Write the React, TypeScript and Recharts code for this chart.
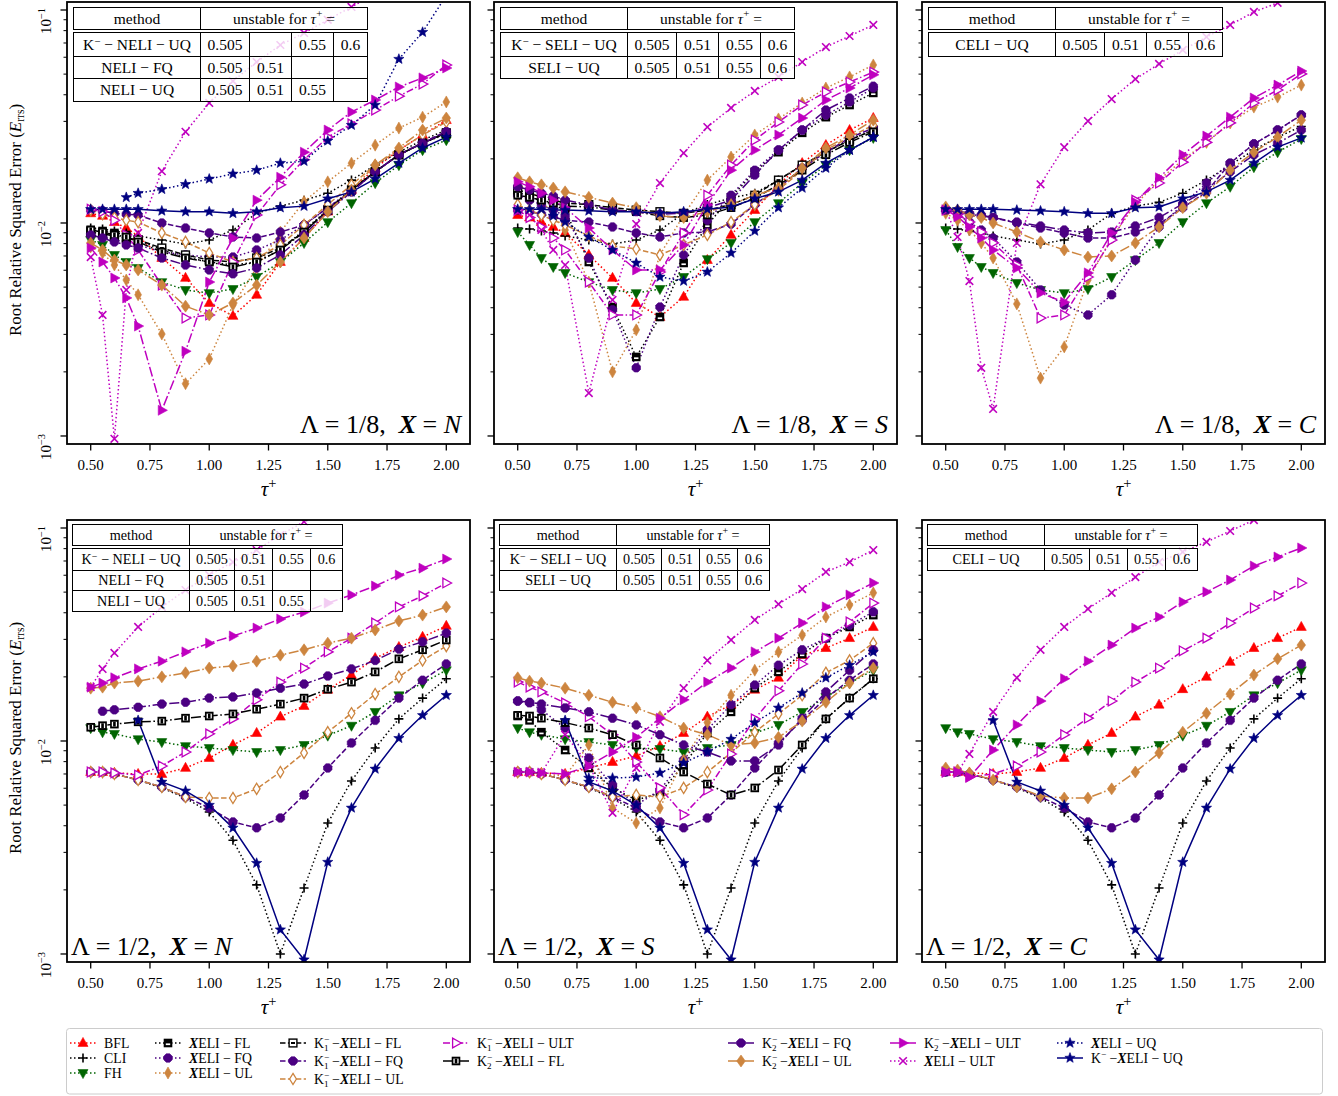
import React from 'react';
import { LineChart, Line, XAxis, YAxis } from 'recharts';

const FONT = '"Liberation Serif", "Times New Roman", Times, serif';

// ---------- categories / ticks ----------
const X_TOP = [0.5, 0.55, 0.6, 0.65, 0.7, 0.8, 0.9, 1.0, 1.1, 1.2, 1.3, 1.4, 1.5, 1.6, 1.7, 1.8, 1.9, 2.0];
const X_BOT = [0.5, 0.55, 0.6, 0.7, 0.8, 0.9, 1.0, 1.1, 1.2, 1.3, 1.4, 1.5, 1.6, 1.7, 1.8, 1.9, 2.0];
const X_TICKS = [0.5, 0.75, 1.0, 1.25, 1.5, 1.75, 2.0];
const Y_TICKS = [0.001, 0.002, 0.003, 0.004, 0.005, 0.006, 0.007, 0.008, 0.009, 0.01, 0.02, 0.03, 0.04, 0.05, 0.06, 0.07, 0.08, 0.09, 0.1];
const X_DOMAIN = [0.4, 2.1];
const Y_DOMAIN = [0.000917, 0.10903];

// ---------- Panel 1: Lambda = 1/8, X = N ----------
const P1_BFL = [0.0111, 0.0108, 0.0101, 0.00947, 0.00869, 0.00685, 0.00552, 0.00421, 0.00366, 0.0046, 0.00656, 0.0085, 0.0113, 0.0143, 0.0181, 0.022, 0.0259, 0.0304];
const P1_CLI = [0.00947, 0.00937, 0.00917, 0.00898, 0.00869, 0.00832, 0.00797, 0.00832, 0.00927, 0.0111, 0.012, 0.0128, 0.0138, 0.0159, 0.0187, 0.0215, 0.0245, 0.0273];
const P1_FH = [0.00832, 0.00789, 0.00708, 0.00656, 0.00615, 0.00528, 0.00485, 0.00469, 0.0049, 0.00558, 0.00656, 0.00806, 0.0101, 0.0124, 0.0154, 0.0187, 0.022, 0.0245];
const P1_XFL = [0.00927, 0.00917, 0.00898, 0.00879, 0.00832, 0.00747, 0.00692, 0.00656, 0.00635, 0.00656, 0.00747, 0.00927, 0.0115, 0.0143, 0.0174, 0.0209, 0.0237, 0.0262];
const P1_XFQ = [0.00879, 0.0086, 0.00832, 0.00815, 0.00789, 0.00731, 0.00708, 0.00692, 0.00692, 0.00747, 0.00832, 0.00979, 0.0118, 0.0143, 0.0174, 0.0209, 0.0237, 0.0265];
const P1_XUL = [0.00772, 0.00723, 0.00635, 0.0054, 0.0046, 0.00301, 0.00176, 0.0023, 0.00412, 0.00615, 0.00907, 0.0126, 0.0156, 0.0191, 0.0232, 0.0279, 0.0314, 0.037];
const P1_K1FL = [0.00907, 0.00888, 0.00869, 0.0085, 0.00832, 0.00763, 0.00708, 0.0067, 0.00656, 0.00685, 0.00763, 0.00907, 0.0115, 0.0143, 0.0174, 0.0209, 0.0237, 0.0265];
const P1_K1FQ = [0.0115, 0.0114, 0.0111, 0.011, 0.0109, 0.01, 0.00947, 0.00898, 0.0086, 0.0085, 0.00907, 0.00979, 0.0118, 0.014, 0.0174, 0.0209, 0.0239, 0.0268];
const P1_K1UL = [0.0115, 0.011, 0.0106, 0.0103, 0.0101, 0.00898, 0.00815, 0.00723, 0.00656, 0.00685, 0.00789, 0.00979, 0.0122, 0.0151, 0.0187, 0.022, 0.0259, 0.0298];
const P1_K1ULT = [0.0116, 0.0113, 0.0103, 0.00879, 0.00747, 0.00511, 0.00358, 0.0037, 0.00656, 0.0109, 0.0151, 0.0198, 0.0253, 0.0292, 0.0339, 0.0394, 0.0449, 0.0552];
const P1_K2FL = [0.00927, 0.00907, 0.00879, 0.0086, 0.00815, 0.00731, 0.00685, 0.00656, 0.00622, 0.00656, 0.00747, 0.00907, 0.0115, 0.0143, 0.0174, 0.0209, 0.0237, 0.0265];
const P1_K2FQ = [0.00879, 0.0085, 0.00815, 0.00789, 0.00763, 0.00685, 0.00635, 0.00602, 0.00577, 0.00615, 0.00708, 0.00879, 0.0113, 0.014, 0.0174, 0.0209, 0.0237, 0.0268];
const P1_K2UL = [0.00806, 0.00747, 0.0067, 0.00635, 0.00602, 0.00511, 0.00407, 0.0037, 0.00421, 0.00511, 0.00656, 0.0085, 0.0113, 0.0143, 0.0187, 0.0225, 0.0273, 0.0311];
const P1_K2ULT = [0.00763, 0.00656, 0.00552, 0.00445, 0.00328, 0.00132, 0.0025, 0.00528, 0.0085, 0.0128, 0.0164, 0.0215, 0.0273, 0.0332, 0.0378, 0.0435, 0.048, 0.0534];
const P1_XULT = [0.00692, 0.0037, 0.00097, 0.00485, 0.00898, 0.0175, 0.0268, 0.0366, 0.0464, 0.057, 0.0685, 0.078, 0.0899, 0.1034, 0.119, 0.137, 0.154, 0.172];
const P1_XUQ = [null, null, null, 0.0132, 0.0138, 0.0144, 0.0152, 0.0161, 0.017, 0.0177, 0.0191, 0.0195, 0.0243, 0.0288, 0.0358, 0.0588, 0.0787, 0.117];
const P1_KUQ = [0.0116, 0.0116, 0.0116, 0.0116, 0.0116, 0.0114, 0.0113, 0.0113, 0.0111, 0.0113, 0.0118, 0.012, 0.013, 0.014, 0.0161, 0.0191, 0.0225, 0.0253];

// ---------- Panel 2: Lambda = 1/8, X = S ----------
const P2_BFL = [0.0109, 0.0106, 0.0101, 0.00958, 0.00898, 0.00708, 0.00552, 0.00421, 0.00362, 0.0045, 0.0067, 0.00879, 0.0115, 0.0151, 0.0191, 0.0232, 0.0273, 0.0311];
const P2_CLI = [0.00947, 0.00937, 0.00917, 0.00898, 0.00869, 0.00832, 0.00797, 0.00832, 0.00927, 0.0111, 0.0122, 0.0131, 0.0138, 0.0159, 0.0187, 0.0215, 0.0245, 0.0273];
const P2_FH = [0.00907, 0.00789, 0.00685, 0.00622, 0.00583, 0.00528, 0.00485, 0.00469, 0.0049, 0.00558, 0.00677, 0.00806, 0.0101, 0.0124, 0.0154, 0.0187, 0.022, 0.0251];
const P2_XFL = [0.014, 0.0132, 0.0128, 0.0122, 0.0115, 0.00656, 0.00403, 0.00235, 0.00362, 0.00649, 0.00979, 0.0132, 0.0174, 0.0215, 0.0265, 0.0314, 0.0358, 0.0408];
const P2_XFQ = [0.0135, 0.0128, 0.0122, 0.0115, 0.0108, 0.00685, 0.00391, 0.00209, 0.00403, 0.00708, 0.0103, 0.0135, 0.0177, 0.022, 0.0273, 0.0321, 0.037, 0.043];
const P2_XUL = [0.0151, 0.0143, 0.0128, 0.0109, 0.00927, 0.00528, 0.002, 0.00315, 0.00708, 0.0109, 0.0159, 0.0204, 0.0259, 0.0308, 0.0366, 0.043, 0.0485, 0.0552];
const P2_K1FL = [0.0143, 0.0138, 0.0132, 0.0128, 0.0124, 0.0122, 0.0118, 0.0115, 0.0113, 0.0111, 0.0115, 0.0122, 0.0135, 0.0159, 0.0187, 0.0215, 0.0245, 0.0273];
const P2_K1FQ = [0.0115, 0.0113, 0.011, 0.0107, 0.0103, 0.0101, 0.00958, 0.00898, 0.0086, 0.00898, 0.00907, 0.00989, 0.0122, 0.0146, 0.0181, 0.0215, 0.0251, 0.0279];
const P2_K1UL = [0.0122, 0.0115, 0.0109, 0.0103, 0.00979, 0.00869, 0.0078, 0.00755, 0.00708, 0.00789, 0.00879, 0.0101, 0.0122, 0.0143, 0.0177, 0.022, 0.0253, 0.0288];
const P2_K1ULT = [0.0115, 0.0106, 0.00958, 0.0085, 0.00747, 0.00528, 0.0037, 0.0037, 0.00589, 0.00898, 0.0135, 0.0187, 0.0245, 0.0298, 0.0358, 0.0412, 0.0459, 0.0511];
const P2_K2FL = [0.0135, 0.0132, 0.0128, 0.0124, 0.012, 0.0119, 0.0115, 0.0113, 0.0108, 0.0106, 0.0109, 0.0118, 0.0131, 0.0151, 0.0177, 0.0209, 0.0239, 0.0268];
const P2_K2FQ = [0.0148, 0.0143, 0.0138, 0.0134, 0.0128, 0.0122, 0.0115, 0.0113, 0.011, 0.0111, 0.0118, 0.0128, 0.0168, 0.022, 0.0273, 0.0339, 0.0386, 0.0439];
const P2_K2UL = [0.0163, 0.0156, 0.0151, 0.0146, 0.014, 0.0132, 0.0124, 0.0118, 0.0108, 0.0106, 0.0113, 0.0122, 0.0135, 0.0146, 0.0181, 0.0225, 0.0259, 0.0304];
const P2_K2ULT = [0.0156, 0.0148, 0.0138, 0.0128, 0.0118, 0.00947, 0.00747, 0.00602, 0.00602, 0.00789, 0.0122, 0.0177, 0.022, 0.0259, 0.0311, 0.0378, 0.043, 0.0496];
const P2_XULT = [0.0113, 0.0109, 0.00927, 0.00747, 0.00635, 0.00159, 0.00435, 0.00989, 0.0154, 0.0213, 0.0282, 0.0347, 0.0417, 0.0485, 0.057, 0.067, 0.0755, 0.0851];
const P2_XUQ = [null, null, null, 0.0108, 0.0101, 0.0086, 0.00747, 0.00649, 0.00558, 0.00534, 0.00589, 0.00723, 0.00917, 0.0118, 0.0146, 0.0181, 0.022, 0.0253];
const P2_KUQ = [0.0116, 0.0116, 0.0116, 0.0115, 0.0115, 0.0114, 0.0113, 0.0113, 0.0111, 0.0113, 0.0116, 0.0119, 0.013, 0.014, 0.0159, 0.0191, 0.022, 0.0253];

// ---------- Panel 3: Lambda = 1/8, X = C ----------
const P3_CLI = [0.00947, 0.00937, 0.00917, 0.00898, 0.00869, 0.00832, 0.00797, 0.00832, 0.00927, 0.0111, 0.012, 0.0125, 0.0138, 0.0159, 0.0187, 0.022, 0.0253, 0.0284];
const P3_FH = [0.00927, 0.00772, 0.00685, 0.00622, 0.00583, 0.00523, 0.00485, 0.00469, 0.0049, 0.00558, 0.0067, 0.00806, 0.0101, 0.0124, 0.0148, 0.0183, 0.0215, 0.0248];
const P3_XFQ = [0.0115, 0.0109, 0.0101, 0.00927, 0.0085, 0.00656, 0.00485, 0.00412, 0.0037, 0.0046, 0.0067, 0.00958, 0.0122, 0.0154, 0.0191, 0.0235, 0.0273, 0.0321];
const P3_XUL = [0.0111, 0.0103, 0.00927, 0.00806, 0.00685, 0.00417, 0.00187, 0.00262, 0.0054, 0.0085, 0.0122, 0.0159, 0.0198, 0.0239, 0.0295, 0.035, 0.039, 0.0444];
const P3_K1FQ = [0.0116, 0.0114, 0.0111, 0.0109, 0.0106, 0.01, 0.00947, 0.00898, 0.0085, 0.0085, 0.00907, 0.00989, 0.0118, 0.014, 0.0191, 0.0235, 0.0273, 0.0321];
const P3_K1ULT = [0.0115, 0.011, 0.0101, 0.00907, 0.00806, 0.00635, 0.00358, 0.0037, 0.00558, 0.00832, 0.0128, 0.0154, 0.0193, 0.0239, 0.0295, 0.0366, 0.0421, 0.0501];
const P3_K2FQ = [0.0115, 0.0113, 0.011, 0.0108, 0.0106, 0.0101, 0.00968, 0.00927, 0.00898, 0.00907, 0.00968, 0.0106, 0.0123, 0.0143, 0.0174, 0.0209, 0.0237, 0.0273];
const P3_K2UL = [0.0119, 0.0115, 0.0109, 0.0106, 0.01, 0.00907, 0.00815, 0.00747, 0.00692, 0.007, 0.00806, 0.00958, 0.0118, 0.0138, 0.0177, 0.0215, 0.0253, 0.0304];
const P3_K2ULT = [0.0115, 0.0107, 0.00958, 0.0085, 0.00747, 0.00615, 0.00469, 0.00425, 0.00583, 0.00898, 0.0125, 0.0163, 0.0209, 0.0256, 0.0314, 0.0386, 0.0444, 0.0517];
const P3_XULT = [0.0115, 0.0086, 0.00534, 0.00209, 0.00134, 0.00806, 0.0152, 0.0227, 0.0301, 0.0382, 0.0474, 0.0558, 0.0649, 0.0747, 0.0851, 0.0979, 0.108, 0.119];
const P3_KUQ = [0.0116, 0.0116, 0.0116, 0.0116, 0.0116, 0.0115, 0.0114, 0.0113, 0.0111, 0.0111, 0.0118, 0.0119, 0.013, 0.014, 0.0159, 0.0191, 0.0227, 0.0251];

// ---------- Panel 4: Lambda = 1/2, X = N ----------
const P4_BFL = [0.00715, 0.00715, 0.00708, 0.007, 0.007, 0.00747, 0.00832, 0.00958, 0.0109, 0.013, 0.0146, 0.0174, 0.0204, 0.0245, 0.0276, 0.0308, 0.0347];
const P4_CLI = [0.00715, 0.00715, 0.007, 0.00656, 0.00602, 0.0054, 0.00464, 0.00342, 0.00211, 0.001, 0.00204, 0.00412, 0.00649, 0.00927, 0.0127, 0.0159, 0.0196];
const P4_FH = [0.0115, 0.011, 0.0108, 0.0102, 0.00989, 0.00947, 0.00927, 0.00907, 0.00888, 0.00907, 0.00958, 0.0106, 0.0118, 0.0137, 0.0164, 0.0187, 0.0215];
const P4_K1FQ = [0.00715, 0.00715, 0.007, 0.00656, 0.00608, 0.00546, 0.00485, 0.00417, 0.00391, 0.00435, 0.00558, 0.00747, 0.00979, 0.0125, 0.0159, 0.0193, 0.023];
const P4_K1UL = [0.00715, 0.00715, 0.007, 0.00656, 0.00608, 0.00546, 0.0054, 0.0054, 0.00596, 0.00715, 0.00879, 0.011, 0.0135, 0.0166, 0.02, 0.0239, 0.0279];
const P4_K1ULT = [0.00715, 0.00715, 0.00708, 0.00692, 0.00763, 0.00888, 0.0108, 0.0127, 0.0156, 0.0189, 0.022, 0.0262, 0.0304, 0.0358, 0.0426, 0.048, 0.0552];
const P4_K2FL = [0.0116, 0.0118, 0.012, 0.0123, 0.0124, 0.0128, 0.0131, 0.0134, 0.0141, 0.0149, 0.0159, 0.0175, 0.0189, 0.0211, 0.0243, 0.0268, 0.0298];
const P4_K2FQ = [null, 0.0138, 0.014, 0.0144, 0.0149, 0.0152, 0.0159, 0.0161, 0.0168, 0.0177, 0.0185, 0.0202, 0.0218, 0.0239, 0.027, 0.0292, 0.0321];
const P4_K2UL = [0.0177, 0.0179, 0.0187, 0.0191, 0.02, 0.0209, 0.022, 0.0225, 0.0237, 0.0253, 0.0268, 0.0288, 0.0304, 0.0332, 0.0366, 0.039, 0.0426];
const P4_K2ULT = [0.0179, 0.0187, 0.0198, 0.0218, 0.0237, 0.0262, 0.0288, 0.0311, 0.0339, 0.0374, 0.0403, 0.0444, 0.0485, 0.0534, 0.0601, 0.0648, 0.0715];
const P4_XULT = [0.0179, 0.0218, 0.0259, 0.0343, 0.0426, 0.0511, 0.0601, 0.0692, 0.0788, 0.0927, 0.107, 0.119, 0.13, 0.14, 0.151, 0.161, 0.172];
const P4_KUQ = [null, null, null, 0.0125, 0.00642, 0.00583, 0.005, 0.00391, 0.00267, 0.0013, 0.00094, 0.0027, 0.00485, 0.00739, 0.0103, 0.0132, 0.0164];

// ---------- Panel 5: Lambda = 1/2, X = S ----------
const P5_BFL = [0.00715, 0.00715, 0.00708, 0.007, 0.00747, 0.00797, 0.0085, 0.00947, 0.0109, 0.013, 0.0148, 0.0174, 0.0198, 0.0253, 0.0273, 0.0304, 0.0343];
const P5_CLI = [0.00715, 0.00715, 0.007, 0.00656, 0.00602, 0.0054, 0.00464, 0.00342, 0.00211, 0.001, 0.00204, 0.00412, 0.00649, 0.00927, 0.0127, 0.0159, 0.0196];
const P5_FH = [0.0115, 0.011, 0.0107, 0.0102, 0.00989, 0.00958, 0.00927, 0.00917, 0.00888, 0.00927, 0.00958, 0.0109, 0.0119, 0.0137, 0.0161, 0.0187, 0.0215];
const P5_XFL = [0.0131, 0.0125, 0.011, 0.00907, 0.00747, 0.00602, 0.00528, 0.0057, 0.00772, 0.0109, 0.0137, 0.0177, 0.0211, 0.0256, 0.0304, 0.0343, 0.039];
const P5_XFQ = [0.0154, 0.0151, 0.014, 0.0115, 0.00832, 0.00622, 0.005, 0.00589, 0.00815, 0.0113, 0.0148, 0.0183, 0.0227, 0.0268, 0.0304, 0.035, 0.0404];
const P5_XUL = [0.00715, 0.00715, 0.007, 0.00685, 0.00958, 0.00485, 0.00412, 0.00485, 0.00815, 0.0122, 0.0164, 0.0215, 0.0262, 0.0314, 0.0382, 0.0435, 0.0496];
const P5_K1FQ = [0.00715, 0.00715, 0.007, 0.00656, 0.00608, 0.00546, 0.00485, 0.00417, 0.00391, 0.00435, 0.00558, 0.00747, 0.00979, 0.0125, 0.0159, 0.0193, 0.023];
const P5_K1UL = [0.00715, 0.00715, 0.007, 0.00656, 0.00608, 0.00546, 0.00558, 0.00546, 0.00602, 0.00715, 0.00879, 0.011, 0.0134, 0.0164, 0.0209, 0.0239, 0.0288];
const P5_K1ULT = [0.0189, 0.0179, 0.017, 0.0151, 0.013, 0.0107, 0.00797, 0.00602, 0.0045, 0.00589, 0.00869, 0.0127, 0.0172, 0.023, 0.0304, 0.0362, 0.0444];
const P5_K2FL = [0.0132, 0.0131, 0.0128, 0.0122, 0.0115, 0.0107, 0.00958, 0.00832, 0.00715, 0.00628, 0.00558, 0.00602, 0.00731, 0.00958, 0.0127, 0.0159, 0.0196];
const P5_K2FQ = [0.0154, 0.0152, 0.0149, 0.0143, 0.0137, 0.0128, 0.0119, 0.0107, 0.00958, 0.00888, 0.00806, 0.00806, 0.00958, 0.0128, 0.017, 0.0215, 0.0268];
const P5_K2UL = [0.0198, 0.0191, 0.0187, 0.0177, 0.0164, 0.0152, 0.0143, 0.013, 0.0115, 0.0107, 0.00958, 0.00979, 0.0104, 0.0124, 0.0152, 0.0187, 0.022];
const P5_K2ULT = [0.00715, 0.00715, 0.00708, 0.007, 0.00763, 0.00888, 0.0104, 0.0128, 0.0156, 0.0189, 0.022, 0.0262, 0.0304, 0.0358, 0.0426, 0.0485, 0.0552];
const P5_XULT = [0.00715, 0.00715, 0.00708, 0.0107, 0.00772, 0.0046, 0.00747, 0.0123, 0.0177, 0.0239, 0.0298, 0.037, 0.0439, 0.0517, 0.0622, 0.0692, 0.0788];
const P5_XUQ = [null, null, null, null, 0.0067, 0.0067, 0.00677, 0.00708, 0.00789, 0.00888, 0.0102, 0.0122, 0.0143, 0.0168, 0.0198, 0.0227, 0.0262];
const P5_KUQ = [null, null, null, 0.0125, 0.00642, 0.00583, 0.005, 0.00391, 0.00267, 0.0013, 0.00094, 0.0027, 0.00485, 0.00739, 0.0103, 0.0132, 0.0164];

// ---------- Panel 6: Lambda = 1/2, X = C ----------
const P6_BFL = [0.00715, 0.00715, 0.00708, 0.007, 0.00715, 0.00747, 0.00832, 0.00958, 0.0109, 0.013, 0.0148, 0.0175, 0.02, 0.0235, 0.0273, 0.0304, 0.0343];
const P6_CLI = [0.00715, 0.00715, 0.007, 0.00656, 0.00602, 0.0054, 0.00464, 0.00342, 0.00211, 0.001, 0.00204, 0.00412, 0.00649, 0.00927, 0.0127, 0.0159, 0.0196];
const P6_FH = [0.0115, 0.011, 0.0108, 0.0102, 0.00989, 0.00947, 0.00927, 0.00907, 0.00888, 0.00907, 0.00958, 0.0106, 0.0118, 0.0137, 0.0164, 0.0187, 0.0215];
const P6_K1FQ = [0.00715, 0.00715, 0.007, 0.00656, 0.00608, 0.00546, 0.00485, 0.00417, 0.00391, 0.00435, 0.00558, 0.00747, 0.00979, 0.0125, 0.0159, 0.0193, 0.023];
const P6_K1ULT = [0.00715, 0.00715, 0.00677, 0.007, 0.00763, 0.00888, 0.0107, 0.0128, 0.0154, 0.0189, 0.022, 0.0265, 0.0304, 0.0358, 0.0421, 0.048, 0.0552];
const P6_K2UL = [0.00747, 0.00731, 0.00708, 0.00656, 0.00608, 0.00552, 0.0054, 0.0054, 0.00596, 0.00715, 0.00879, 0.011, 0.0135, 0.0166, 0.0204, 0.0243, 0.0282];
const P6_K2ULT = [0.00715, 0.00715, 0.00677, 0.00907, 0.0119, 0.0154, 0.0196, 0.0237, 0.0282, 0.0339, 0.0382, 0.0449, 0.0501, 0.057, 0.0663, 0.0731, 0.0806];
const P6_XULT = [0.00715, 0.00715, 0.00869, 0.0137, 0.0198, 0.0268, 0.0343, 0.0417, 0.0496, 0.0588, 0.0692, 0.0772, 0.086, 0.0968, 0.109, 0.119, 0.128];
const P6_KUQ = [null, null, null, 0.0125, 0.00642, 0.00583, 0.005, 0.00391, 0.00267, 0.0013, 0.00094, 0.0027, 0.00485, 0.00739, 0.0103, 0.0132, 0.0164];

// ---------- table texts ----------
const TABLE_HEAD = ['method', 'unstable for'];
const TABLE_N_TOP = [
  ['K^- − NELI − UQ', '0.505', '', '0.55', '0.6'],
  ['NELI − FQ', '0.505', '0.51', '', ''],
  ['NELI − UQ', '0.505', '0.51', '0.55', ''],
];
const TABLE_N_BOT = [
  ['K^- − NELI − UQ', '0.505', '0.51', '0.55', '0.6'],
  ['NELI − FQ', '0.505', '0.51', '', ''],
  ['NELI − UQ', '0.505', '0.51', '0.55', ''],
];
const TABLE_S = [
  ['K^- − SELI − UQ', '0.505', '0.51', '0.55', '0.6'],
  ['SELI − UQ', '0.505', '0.51', '0.55', '0.6'],
];
const TABLE_C = [['CELI − UQ', '0.505', '0.51', '0.55', '0.6']];

// ---------- styles ----------
const RED = '#ff0000', BLACK = '#000000', GREEN = '#006400', INDIGO = '#4b0082', PERU = '#cd853f', MAGENTA = '#bf00bf', NAVY = '#000080';
const DOT = '1.5 2.5', DASH = '5.5 2.4', DASHDOT = '7 2.4 1.5 2.4', LDASHDOT = '10 2.6 1.6 2.6', SOLID = undefined;

const SERIES = [
  { id: 'BFL', color: RED, dash: DOT, mk: 'triUp', lab: { text: 'BFL' } },
  { id: 'CLI', color: BLACK, dash: DOT, mk: 'plus', lab: { text: 'CLI' } },
  { id: 'FH', color: GREEN, dash: DOT, mk: 'triDown', lab: { text: 'FH' } },
  { id: 'XFL', color: BLACK, dash: DOT, mk: 'sqFL', lab: { x: true, text: 'ELI − FL' } },
  { id: 'XFQ', color: INDIGO, dash: DOT, mk: 'oct', lab: { x: true, text: 'ELI − FQ' } },
  { id: 'XUL', color: PERU, dash: DOT, mk: 'dia', lab: { x: true, text: 'ELI − UL' } },
  { id: 'K1FL', color: BLACK, dash: DASH, mk: 'sqOpen', lab: { k: '1', x: true, text: 'ELI − FL' } },
  { id: 'K1FQ', color: INDIGO, dash: DASH, mk: 'oct', lab: { k: '1', x: true, text: 'ELI − FQ' } },
  { id: 'K1UL', color: PERU, dash: DASH, mk: 'diaOpen', lab: { k: '1', x: true, text: 'ELI − UL' } },
  { id: 'K1ULT', color: MAGENTA, dash: DASHDOT, mk: 'triROpen', lab: { k: '1', x: true, text: 'ELI − ULT' } },
  { id: 'K2FL', color: BLACK, dash: LDASHDOT, mk: 'sqK2', lab: { k: '2', x: true, text: 'ELI − FL' } },
  { id: 'K2FQ', color: INDIGO, dash: LDASHDOT, mk: 'oct', lab: { k: '2', x: true, text: 'ELI − FQ' } },
  { id: 'K2UL', color: PERU, dash: LDASHDOT, mk: 'diaFat', lab: { k: '2', x: true, text: 'ELI − UL' } },
  { id: 'K2ULT', color: MAGENTA, dash: LDASHDOT, mk: 'triR', lab: { k: '2', x: true, text: 'ELI − ULT' } },
  { id: 'XULT', color: MAGENTA, dash: DOT, mk: 'x', lab: { x: true, text: 'ELI − ULT' } },
  { id: 'XUQ', color: NAVY, dash: DOT, mk: 'star', lab: { x: true, text: 'ELI − UQ' } },
  { id: 'KUQ', color: NAVY, dash: SOLID, mk: 'star', lab: { k: '', x: true, text: 'ELI − UQ' } },
];

const LEGEND_COLS = [
  ['BFL', 'CLI', 'FH'],
  ['XFL', 'XFQ', 'XUL'],
  ['K1FL', 'K1FQ', 'K1UL'],
  ['K1ULT', 'K2FL'],
  ['K2FQ', 'K2UL'],
  ['K2ULT', 'XULT'],
  ['XUQ', 'KUQ'],
];
const LEGEND_X = [70, 155, 280, 443, 728, 890, 1057];
const LEGEND_ROWS = [
  [1043, 1058, 1073],
  [1043, 1058, 1073],
  [1043, 1061, 1079],
  [1043, 1061],
  [1043, 1061],
  [1043, 1061],
  [1043, 1058],
];

const PW = 403, PH = 442;

const PANELS = [
  { x0: 67, y0: 2, xs: X_TOP, lam: '1/8', v: 'N', top: true, yl: true, table: TABLE_N_TOP,
    data: { BFL: P1_BFL, CLI: P1_CLI, FH: P1_FH, XFL: P1_XFL, XFQ: P1_XFQ, XUL: P1_XUL, K1FL: P1_K1FL, K1FQ: P1_K1FQ, K1UL: P1_K1UL, K1ULT: P1_K1ULT, K2FL: P1_K2FL, K2FQ: P1_K2FQ, K2UL: P1_K2UL, K2ULT: P1_K2ULT, XULT: P1_XULT, XUQ: P1_XUQ, KUQ: P1_KUQ } },
  { x0: 494, y0: 2, xs: X_TOP, lam: '1/8', v: 'S', top: true, yl: false, table: TABLE_S,
    data: { BFL: P2_BFL, CLI: P2_CLI, FH: P2_FH, XFL: P2_XFL, XFQ: P2_XFQ, XUL: P2_XUL, K1FL: P2_K1FL, K1FQ: P2_K1FQ, K1UL: P2_K1UL, K1ULT: P2_K1ULT, K2FL: P2_K2FL, K2FQ: P2_K2FQ, K2UL: P2_K2UL, K2ULT: P2_K2ULT, XULT: P2_XULT, XUQ: P2_XUQ, KUQ: P2_KUQ } },
  { x0: 922, y0: 2, xs: X_TOP, lam: '1/8', v: 'C', top: true, yl: false, table: TABLE_C,
    data: { CLI: P3_CLI, FH: P3_FH, XFQ: P3_XFQ, XUL: P3_XUL, K1FQ: P3_K1FQ, K1ULT: P3_K1ULT, K2FQ: P3_K2FQ, K2UL: P3_K2UL, K2ULT: P3_K2ULT, XULT: P3_XULT, KUQ: P3_KUQ } },
  { x0: 67, y0: 520, xs: X_BOT, lam: '1/2', v: 'N', top: false, yl: true, table: TABLE_N_BOT,
    data: { BFL: P4_BFL, CLI: P4_CLI, FH: P4_FH, K1FQ: P4_K1FQ, K1UL: P4_K1UL, K1ULT: P4_K1ULT, K2FL: P4_K2FL, K2FQ: P4_K2FQ, K2UL: P4_K2UL, K2ULT: P4_K2ULT, XULT: P4_XULT, KUQ: P4_KUQ } },
  { x0: 494, y0: 520, xs: X_BOT, lam: '1/2', v: 'S', top: false, yl: false, table: TABLE_S,
    data: { BFL: P5_BFL, CLI: P5_CLI, FH: P5_FH, XFL: P5_XFL, XFQ: P5_XFQ, XUL: P5_XUL, K1FQ: P5_K1FQ, K1UL: P5_K1UL, K1ULT: P5_K1ULT, K2FL: P5_K2FL, K2FQ: P5_K2FQ, K2UL: P5_K2UL, K2ULT: P5_K2ULT, XULT: P5_XULT, XUQ: P5_XUQ, KUQ: P5_KUQ } },
  { x0: 922, y0: 520, xs: X_BOT, lam: '1/2', v: 'C', top: false, yl: false, table: TABLE_C,
    data: { BFL: P6_BFL, CLI: P6_CLI, FH: P6_FH, K1FQ: P6_K1FQ, K1ULT: P6_K1ULT, K2UL: P6_K2UL, K2ULT: P6_K2ULT, XULT: P6_XULT, KUQ: P6_KUQ } },
];

// ---------- markers ----------
const pts = (arr, cx, cy) => arr.map(([a, b]) => `${cx + a},${cy + b}`).join(' ');
const OCT = Array.from({ length: 8 }, (_, i) => {
  const a = (Math.PI / 8) + (i * Math.PI) / 4;
  return [4.6 * Math.cos(a), 4.6 * Math.sin(a)];
});
const STAR = Array.from({ length: 10 }, (_, i) => {
  const a = -Math.PI / 2 + (i * Math.PI) / 5;
  const r = i % 2 === 0 ? 5.4 : 2.3;
  return [r * Math.cos(a), r * Math.sin(a)];
});

function Mk({ kind, color, cx, cy }) {
  if (cx == null || cy == null || !isFinite(cx) || !isFinite(cy)) return null;
  const c = color;
  switch (kind) {
    case 'triUp':
      return <polygon points={pts([[0, -5.6], [5, 3.4], [-5, 3.4]], cx, cy)} fill={c} stroke={c} strokeWidth={0.6} />;
    case 'triDown':
      return <polygon points={pts([[0, 5.6], [5, -3.4], [-5, -3.4]], cx, cy)} fill={c} stroke={c} strokeWidth={0.6} />;
    case 'plus':
      return <path d={`M${cx - 4.5},${cy}H${cx + 4.5}M${cx},${cy - 4.5}V${cy + 4.5}`} stroke={c} strokeWidth={1.6} fill="none" />;
    case 'x':
      return <path d={`M${cx - 3.8},${cy - 3.8}L${cx + 3.8},${cy + 3.8}M${cx - 3.8},${cy + 3.8}L${cx + 3.8},${cy - 3.8}`} stroke={c} strokeWidth={1.6} fill="none" />;
    case 'sqFL':
      return (
        <g>
          <rect x={cx - 4.3} y={cy - 4.3} width={8.6} height={8.6} fill={c} />
          <rect x={cx - 2.2} y={cy + 0.4} width={4.4} height={1.7} fill="#fff" />
        </g>
      );
    case 'sqOpen':
      return (
        <g>
          <rect x={cx - 3.9} y={cy - 3.9} width={7.8} height={7.8} fill="#fff" stroke={c} strokeWidth={1.4} />
          <rect x={cx - 2} y={cy - 1} width={4} height={2} fill={c} />
        </g>
      );
    case 'sqK2':
      return (
        <g>
          <rect x={cx - 4.3} y={cy - 4.3} width={8.6} height={8.6} fill={c} />
          <rect x={cx - 2.6} y={cy - 2.4} width={5.2} height={4.8} fill="#fff" />
          <rect x={cx - 1.3} y={cy - 2.4} width={2.6} height={4.8} fill={c} />
        </g>
      );
    case 'oct':
      return <polygon points={pts(OCT, cx, cy)} fill={c} stroke={c} strokeWidth={0.6} />;
    case 'dia':
      return <polygon points={pts([[0, -6], [3.4, 0], [0, 6], [-3.4, 0]], cx, cy)} fill={c} stroke={c} strokeWidth={0.6} />;
    case 'diaOpen':
      return <polygon points={pts([[0, -5.6], [3.4, 0], [0, 5.6], [-3.4, 0]], cx, cy)} fill="#fff" stroke={c} strokeWidth={1.3} />;
    case 'diaFat':
      return <polygon points={pts([[0, -6], [4.3, 0], [0, 6], [-4.3, 0]], cx, cy)} fill={c} stroke={c} strokeWidth={0.6} />;
    case 'triR':
      return <polygon points={pts([[5.6, 0], [-3.6, -5], [-3.6, 5]], cx, cy)} fill={c} stroke={c} strokeWidth={0.6} />;
    case 'triROpen':
      return <polygon points={pts([[5.3, 0], [-3.4, -4.8], [-3.4, 4.8]], cx, cy)} fill="#fff" stroke={c} strokeWidth={1.3} />;
    case 'star':
      return <polygon points={pts(STAR, cx, cy)} fill={c} stroke={c} strokeWidth={0.6} />;
    default:
      return null;
  }
}

// ---------- axes ticks ----------
const isMajor = (v) => Math.abs(Math.log10(v) - Math.round(Math.log10(v))) < 1e-6;

function YTick({ y, payload, axisX, showLabel }) {
  const v = payload.value;
  const major = isMajor(v);
  const len = major ? 6.5 : 3.5;
  const e = Math.round(Math.log10(v));
  return (
    <g>
      <line x1={axisX} x2={axisX - len} y1={y} y2={y} stroke="#000" strokeWidth={major ? 1.3 : 1} />
      {major && showLabel ? (
        <text
          transform={`translate(${axisX - 16},${y + 11}) rotate(-90)`}
          textAnchor="middle"
          fontFamily={FONT}
          fontSize={15}
          fill="#000"
        >
          10<tspan dy={-6} fontSize={10.5}>{'−' + Math.abs(e)}</tspan>
        </text>
      ) : null}
    </g>
  );
}

function XTick({ x, payload, axisY }) {
  return (
    <g>
      <line x1={x} x2={x} y1={axisY} y2={axisY + 6.5} stroke="#000" strokeWidth={1.3} />
      <text x={x} y={axisY + 26} textAnchor="middle" fontFamily={FONT} fontSize={15} fill="#000">
        {payload.value.toFixed(2)}
      </text>
    </g>
  );
}

// ---------- panel ----------
function Panel({ cfg }) {
  const YW = cfg.yl ? 62 : 14;
  const MT = 4, MR = 4, XH = 34;
  const W = YW + PW + MR;
  const H = MT + PH + XH;
  const list = SERIES.filter((s) => cfg.data[s.id]);
  return (
    <div style={{ position: 'absolute', left: cfg.x0 - YW, top: cfg.y0 - MT, width: W, height: H }}>
      <LineChart width={W} height={H} margin={{ top: MT, right: MR, left: 0, bottom: 0 }}>
        <XAxis
          dataKey="x"
          type="number"
          domain={X_DOMAIN}
          allowDataOverflow
          ticks={X_TICKS}
          interval={0}
          axisLine={false}
          tickLine={false}
          height={XH}
          tick={(p) => <XTick {...p} axisY={MT + PH} />}
        />
        <YAxis
          type="number"
          scale="log"
          domain={Y_DOMAIN}
          allowDataOverflow
          ticks={Y_TICKS}
          interval={0}
          axisLine={false}
          tickLine={false}
          width={YW}
          tick={(p) => <YTick {...p} axisX={YW} showLabel={cfg.yl} />}
        />
        {list.map((s) => (
          <Line
            key={s.id}
            data={cfg.xs.map((x, i) => ({ x, y: cfg.data[s.id][i] }))}
            dataKey="y"
            type="linear"
            stroke={s.color}
            strokeWidth={1.5}
            strokeDasharray={s.dash}
            isAnimationActive={false}
            activeDot={false}
            legendType="none"
            dot={(p) => {
              const ok = p.cy != null && p.cy >= MT - 4 && p.cy <= MT + PH + 4;
              return <Mk key={`${s.id}-${p.index}`} kind={s.mk} color={s.color} cx={p.cx} cy={ok ? p.cy : null} />;
            }}
          />
        ))}
      </LineChart>
    </div>
  );
}

// ---------- table ----------
function MethodCell({ text }) {
  if (text.startsWith('K^-')) {
    return (
      <span>
        K<span style={{ fontSize: '0.7em', position: 'relative', top: '-0.45em' }}>−</span>
        {text.slice(3)}
      </span>
    );
  }
  return <span>{text}</span>;
}

function UnstableTable({ cfg }) {
  const top = cfg.top;
  const cols = top ? [127, 49, 42, 42, 35] : [117, 45, 38, 38, 33];
  const headH = top ? 23 : 22;
  const rowH = top ? 22.7 : 20.7;
  const fs = top ? 15.5 : 14.2;
  const left = cfg.x0 + (top ? 6 : 5);
  const tp = cfg.y0 + (top ? 5 : 4);
  const total = cols.reduce((a, b) => a + b, 0);
  const cell = { display: 'flex', alignItems: 'center', justifyContent: 'center', boxSizing: 'border-box', whiteSpace: 'nowrap' };
  const bg = 'rgba(255,255,255,0.8)';
  return (
    <div style={{ position: 'absolute', left, top: tp, width: total, fontFamily: FONT, fontSize: fs, lineHeight: 1, color: '#000' }}>
      <div style={{ display: 'flex', height: headH, border: '1px solid #000', background: bg, boxSizing: 'border-box' }}>
        <div style={{ ...cell, width: cols[0], borderRight: '1px solid #000' }}>{TABLE_HEAD[0]}</div>
        <div style={{ ...cell, flex: 1 }}>
          {TABLE_HEAD[1]}&nbsp;<i>τ</i>
          <span style={{ fontSize: '0.7em', position: 'relative', top: '-0.45em' }}>+</span>&nbsp;=
        </div>
      </div>
      <div style={{ marginTop: 2, border: '1px solid #000', background: bg, boxSizing: 'border-box' }}>
        {cfg.table.map((r, i) => (
          <div key={i} style={{ display: 'flex', height: rowH, borderTop: i ? '1px solid #000' : 'none', boxSizing: 'border-box' }}>
            {r.map((c, j) => (
              <div key={j} style={{ ...cell, width: j === 0 ? cols[0] : cols[j] - (j === 4 ? 2 : 0), borderRight: j < 4 ? '1px solid #000' : 'none' }}>
                {j === 0 ? <MethodCell text={c} /> : c}
              </div>
            ))}
          </div>
        ))}
      </div>
    </div>
  );
}

// ---------- legend label ----------
function LabelText({ x, y, lab, fs }) {
  const sm = fs * 0.66;
  const parts = [];
  if (lab.k !== undefined) {
    parts.push(<tspan key="k">K</tspan>);
    parts.push(<tspan key="sup" dy={-fs * 0.38} fontSize={sm}>−</tspan>);
    if (lab.k !== '') {
      parts.push(<tspan key="sub" dx={-sm * 0.55} dy={fs * 0.6} fontSize={sm}>{lab.k}</tspan>);
      parts.push(<tspan key="m" dy={-fs * 0.22}>{' −'}</tspan>);
    } else {
      parts.push(<tspan key="m" dy={fs * 0.38}>{' −'}</tspan>);
    }
  }
  if (lab.x) parts.push(<tspan key="X" fontWeight="bold" fontStyle="italic">X</tspan>);
  parts.push(<tspan key="t">{lab.text}</tspan>);
  return (
    <text x={x} y={y} fontFamily={FONT} fontSize={fs} fill="#000" style={{ whiteSpace: 'pre' }}>
      {parts}
    </text>
  );
}

function Overlay() {
  const byId = Object.fromEntries(SERIES.map((s) => [s.id, s]));
  return (
    <svg width={1338} height={1096} style={{ position: 'absolute', left: 0, top: 0, pointerEvents: 'none' }}>
      {PANELS.map((p, i) => {
        const x1 = p.x0 + PW, y1 = p.y0 + PH;
        return (
          <g key={i}>
            <rect x={p.x0} y={p.y0} width={PW} height={PH} fill="none" stroke="#000" strokeWidth={1.8} />
            <text x={p.x0 + PW / 2} y={y1 + 52} textAnchor="middle" fontFamily={FONT} fontSize={21} fill="#000">
              <tspan fontStyle="italic">τ</tspan>
              <tspan dy={-8} fontSize={14.5}>+</tspan>
            </text>
            <text
              x={p.top ? x1 - 9 : p.x0 + 4}
              y={p.top ? y1 - 11 : y1 - 7}
              textAnchor={p.top ? 'end' : 'start'}
              fontFamily={FONT}
              fontSize={26}
              fill="#000"
              style={{ whiteSpace: 'pre' }}
            >
              {'Λ = ' + p.lam + ',  '}
              <tspan fontWeight="bold" fontStyle="italic">X</tspan>
              {' = '}
              <tspan fontStyle="italic">{p.v}</tspan>
            </text>
            {p.yl ? (
              <text
                transform={`translate(21,${p.y0 + PH / 2 - 3}) rotate(-90)`}
                textAnchor="middle"
                fontFamily={FONT}
                fontSize={17}
                fill="#000"
              >
                Root Relative Squared Error (<tspan fontStyle="italic">E</tspan>
                <tspan dy={3} fontSize={11.5}>rrs</tspan>
                <tspan dy={-3}>)</tspan>
              </text>
            ) : null}
          </g>
        );
      })}
      <rect x={66.5} y={1028.5} width={1256} height={65.5} rx={3} fill="#fff" stroke="#cccccc" strokeWidth={1} />
      {LEGEND_COLS.map((col, ci) =>
        col.map((id, ri) => {
          const s = byId[id];
          const lx = LEGEND_X[ci];
          const ly = LEGEND_ROWS[ci][ri];
          return (
            <g key={id}>
              <line x1={lx} x2={lx + 26} y1={ly} y2={ly} stroke={s.color} strokeWidth={1.5} strokeDasharray={s.dash} />
              <Mk kind={s.mk} color={s.color} cx={lx + 13} cy={ly} />
              <LabelText x={lx + 34} y={ly + 4.8} lab={s.lab} fs={13.8} />
            </g>
          );
        })
      )}
    </svg>
  );
}

export default function App() {
  return (
    <div
      style={{
        position: 'fixed',
        left: 0,
        top: 0,
        width: 1338,
        height: 1096,
        background: '#fff',
        overflow: 'hidden',
        fontFamily: FONT,
      }}
    >
      {PANELS.map((p, i) => (
        <Panel key={i} cfg={p} />
      ))}
      {PANELS.map((p, i) => (
        <UnstableTable key={'t' + i} cfg={p} />
      ))}
      <Overlay />
    </div>
  );
}
